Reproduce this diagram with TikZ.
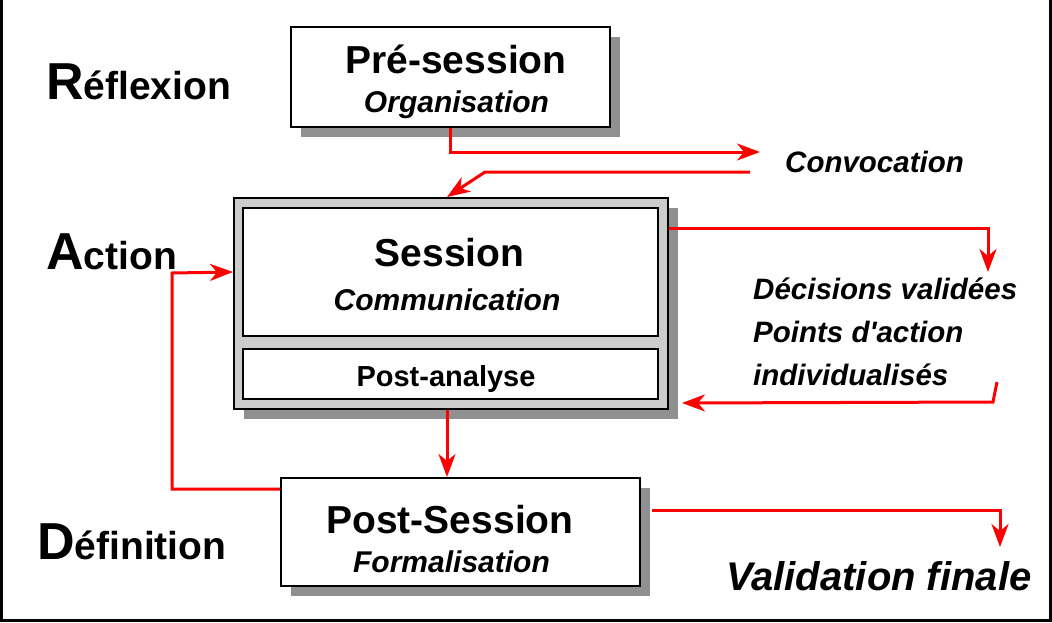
\documentclass[tikz,border=0pt]{standalone}
\usepackage{fontspec}
\setmainfont{Liberation Sans}
\usetikzlibrary{arrows.meta,shadows,calc}
\definecolor{shgray}{HTML}{909090}
\definecolor{boxgray}{HTML}{CCCCCC}
\definecolor{lred}{HTML}{FF0000}
\newcommand{\myfs}[1]{\fontsize{#1}{#1}\selectfont}
\tikzset{
  boxshadow/.style={drop shadow={shadow xshift=10pt,shadow yshift=-10pt,fill=shgray,opacity=1}},
  plainbox/.style={draw=black, line width=2pt, fill=white, inner sep=0pt},
  box/.style={plainbox, boxshadow},
  title/.style={anchor=base, inner sep=0pt, font=\myfs{39}\bfseries},
  sub/.style={anchor=base, inner sep=0pt, font=\myfs{30}\bfseries\itshape},
  lbl/.style={anchor=base west, inner sep=0pt, font=\myfs{29.5}\bfseries\itshape},
  phase/.style={anchor=base west, inner sep=0pt, font=\bfseries},
  flow/.style={draw=lred, line width=3pt, -{Stealth[length=23pt,width=17pt,inset=7pt]}}
}
\begin{document}
\begin{tikzpicture}[x=1pt,y=-1pt]
\fill[white] (0,0) rectangle (1052,622);
\useasboundingbox (0,0) rectangle (1052,622);
\draw[line width=3pt] (1.5,0) -- (1.5,620.5) -- (1050.5,620.5) -- (1050.5,0);

% boxes
\node[box, minimum width=319pt, minimum height=100pt] (pre) at (450.5,77) {};
\node[box, fill=boxgray, minimum width=434pt, minimum height=211pt] (sess) at (451,303.5) {};
\node[plainbox, minimum width=415pt, minimum height=128pt] (sessin) at (450.5,272) {};
\node[plainbox, minimum width=415pt, minimum height=50pt] (postan) at (450.5,374) {};
\node[box, minimum width=359pt, minimum height=108pt] (posts) at (460.5,532) {};

% box texts
\node[title] (pret) at (456,73) {Pré-session};
\node[sub] (preo) at (456.5,112) {Organisation};
\node[title] (sesst) at (449.5,266) {Session};
\node[sub] (sessc) at (447,310) {Communication};
\node[anchor=base, inner sep=0pt, font=\myfs{29}\bfseries] (postat) at (446,386) {Post-analyse};
\node[title] (postst) at (450,533) {Post-Session};
\node[sub] (postsf) at (451.5,572) {Formalisation};

% side labels
\node[phase] (refl) at (46,99) {\myfs{52}R\myfs{39}éflexion};
\node[phase] (act) at (46,269) {\myfs{52}A\myfs{39}ction};
\node[phase] (defi) at (37,559) {\myfs{52}D\myfs{39}éfinition};

% right labels
\node[lbl] (conv) at (785,172) {Convocation};
\node[lbl] (dec1) at (753,299) {Décisions validées};
\node[lbl] (dec2) at (753,342) {Points d\textquotesingle action};
\node[lbl] (dec3) at (753,385) {individualisés};
\node[lbl, font=\myfs{40}\bfseries\itshape] (valf) at (726,590) {Validation finale};

% connectors
\coordinate (cvtip) at (760,152);
\draw[flow] (pre.south) |- (cvtip);
\coordinate (cvret) at (750,172);
\coordinate (cvbend) at (485,172);
\draw[flow] (cvret) -- (cvbend) -- ([xshift=-4pt]sess.north);
\coordinate (dtip) at (988,272);
\draw[flow] ($(sess.north east)+(0,31)$) -| (dtip);
\coordinate (rt1) at (997,382);
\coordinate (rt2) at (993,402);
\draw[flow] (rt1) -- (rt2) -- ($(sess.south east)+(13,-7)$);
\coordinate (dn) at ([xshift=-4pt]sess.south);
\draw[flow] (dn) -- (dn |- posts.north);
\coordinate (loop) at (172,273);
\draw[flow] ($(posts.north west)+(0,12)$) -| (loop) -- ($(sess.north west)+(0,75)$);
\coordinate (vtip) at (1000,547);
\draw[flow] ($(posts.north east)+(11,33)$) -| (vtip);
\end{tikzpicture}
\end{document}
